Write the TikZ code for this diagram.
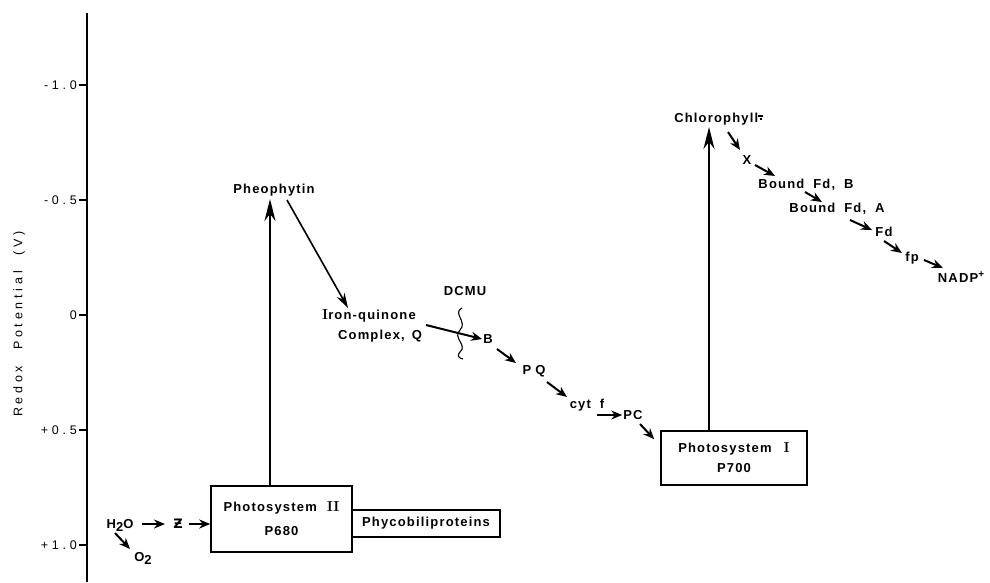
\documentclass[tikz,border=0pt]{standalone}
\usepackage{fontspec}
\usepackage{amsmath}
\usetikzlibrary{arrows.meta,positioning}

\newfontfamily\labfont[LetterSpace=9]{Liberation Sans}
\newfontfamily\axfont[LetterSpace=30]{Liberation Sans}
\newfontfamily\zfont{DejaVu Sans}
\newcommand\labsize{\fontsize{13pt}{15pt}\selectfont}
\newcommand\axsize{\fontsize{12.5pt}{15pt}\selectfont}
\newcommand\romnum[1]{{\rmfamily\fontsize{14.5pt}{15pt}\selectfont #1}}
\newcommand\radminus{\raisebox{6pt}{\rule{5pt}{1.2pt}}\kern-3.5pt\raisebox{3pt}{\rule{2pt}{1.4pt}}}

\tikzset{
  lab/.style={font=\labfont\bfseries\labsize, inner sep=1pt, text height=9pt, text depth=0pt},
  axlab/.style={font=\axfont\axsize, inner sep=1pt, text height=8.8pt, text depth=0pt},
  psbox/.style={draw, line width=1.5pt, font=\labfont\bfseries\labsize, align=center, inner sep=0pt},
  flow/.style={-{Stealth[length=11pt,width=9pt]}, line width=2pt},
  rise/.style={-{Stealth[length=22pt,width=11pt]}, line width=2.4pt}
}

\begin{document}
\begin{tikzpicture}[x=1pt, y=-1pt]
  \fill[white] (0,0) rectangle (990,582);
  \useasboundingbox (0,0) rectangle (990,582);

  % potential axis
  \draw[line width=1.3pt] (87,13) -- (87,582);
  \foreach \v/\t in {-1.0/-1.0, -0.5/-0.5, 0/0, 0.5/+0.5, 1.0/+1.0} {
    \draw[line width=1.2pt] (79,{315+230*\v}) -- (87,{315+230*\v});
    \node[axlab, anchor=east] at (78,{315+230*\v}) {\t};
  }
  \node[axlab, rotate=90] (ylab) at (18,324) {Redox\hspace{16pt}Potential\hspace{16pt}(V)};

  % photosystem II side
  \node[lab] (h2o) at (120,524) {H\raisebox{-3pt}{2}O};
  \node[lab] (zz) at (178,524) {{\zfont Ƶ}};
  \node[lab] (o2) at (143,557) {O\raisebox{-3pt}{2}};
  \node[psbox, minimum width=141pt, minimum height=66pt] (psii) at (281.5,519) {Photosystem\hspace{10pt}\romnum{II}\\[9pt]P680};
  \node[psbox, minimum width=148pt, minimum height=27pt, right=-1.5pt of psii, yshift=-4.5pt] (phyco) {Phycobiliproteins};
  \node[lab] (pheo) at (274,189) {Pheophytin};
  \coordinate (pheotip) at ([shift={(-4,10)}]pheo.center);

  % carriers between the photosystems
  \node[lab] (iron) at (369,315) {\romnum{I}ron-quinone};
  \node[lab] (cplx) at (380,335) {Complex,\hspace{7pt}Q};
  \node[lab] (dcmu) at (465,291) {DCMU};
  \node[lab] (b) at (488,339) {B};
  \node[lab] (pq) at (534,370) {P\hspace{4pt}Q};
  \node[lab] (cytf) at (587,404) {cyt\hspace{9pt}f};
  \node[lab] (pc) at (633,415) {PC};

  % photosystem I side
  \node[psbox, minimum width=146pt, minimum height=54pt] (psi) at (734,458) {Photosystem\hspace{12pt}\romnum{I}\\[5pt]P700};
  \node[lab] (chl) at (718,118) {Chlorophyll\radminus};
  \coordinate (chltip) at ([shift={(-9,9)}]chl.center);
  \node[lab] (xx) at (747,160) {X};
  \node[lab] (bfdb) at (806,184) {Bound\hspace{9pt}Fd,\hspace{9pt}B};
  \node[lab] (bfda) at (837,208) {Bound\hspace{9pt}Fd,\hspace{9pt}A};
  \node[lab] (fd) at (884,232) {Fd};
  \node[lab] (fp) at (912,257) {fp};
  \node[lab] (nadp) at (961,278) {NADP\raisebox{5pt}{\fontsize{10pt}{10pt}\selectfont +}};

  % electron flow
  \draw[flow] ([xshift=22pt]h2o.center) -- ([xshift=-13pt]zz.center);
  \draw[flow] ([xshift=11pt]zz.center) -- (zz.center -| psii.west);
  \draw[flow] ([shift={(-5,9)}]h2o.center) -- ([shift={(-13,-8)}]o2.center);
  \draw[rise] (pheotip |- psii.north) -- (pheotip);
  \draw[line width=1.6pt, -{Stealth[length=15pt,width=9pt]}] ([shift={(13,11)}]pheo.center) -- ([shift={(-21,-7)}]iron.center);
  \draw[flow] ([shift={(46,-10)}]cplx.center) -- (b.west);
  \draw[line width=1.1pt] (462,308) .. controls (452,313) and (468,322) .. (460,330)
    .. controls (452,338) and (468,345) .. (460,352) .. controls (457,355) and (458,358) .. (463,359); % DCMU block
  \draw[flow] ([shift={(9,10)}]b.center) -- ([shift={(-18,-7)}]pq.center);
  \draw[flow] ([shift={(13,12)}]pq.center) -- ([shift={(-20,-7)}]cytf.center);
  \draw[flow] ([shift={(10,11)}]cytf.center) -- (pc.west);
  \draw[flow] ([shift={(7,9)}]pc.center) -- ([shift={(-6,9)}]psi.north west);
  \draw[rise] (chltip |- psi.north) -- (chltip);
  \draw[flow] ([shift={(10,14)}]chl.center) -- ([shift={(-7,-10)}]xx.center);
  \draw[flow] ([shift={(8,5)}]xx.center) -- ([shift={(-31,-8)}]bfdb.center);
  \draw[flow] ([shift={(-1,8)}]bfdb.center) -- ([shift={(-15,-6)}]bfda.center);
  \draw[flow] ([shift={(13,12)}]bfda.center) -- ([shift={(-12,-2)}]fd.center);
  \draw[flow] ([shift={(0,9)}]fd.center) -- ([shift={(-10,-4)}]fp.center);
  \draw[flow] ([shift={(12,3)}]fp.center) -- ([shift={(-18,-10)}]nadp.center);
\end{tikzpicture}
\end{document}
